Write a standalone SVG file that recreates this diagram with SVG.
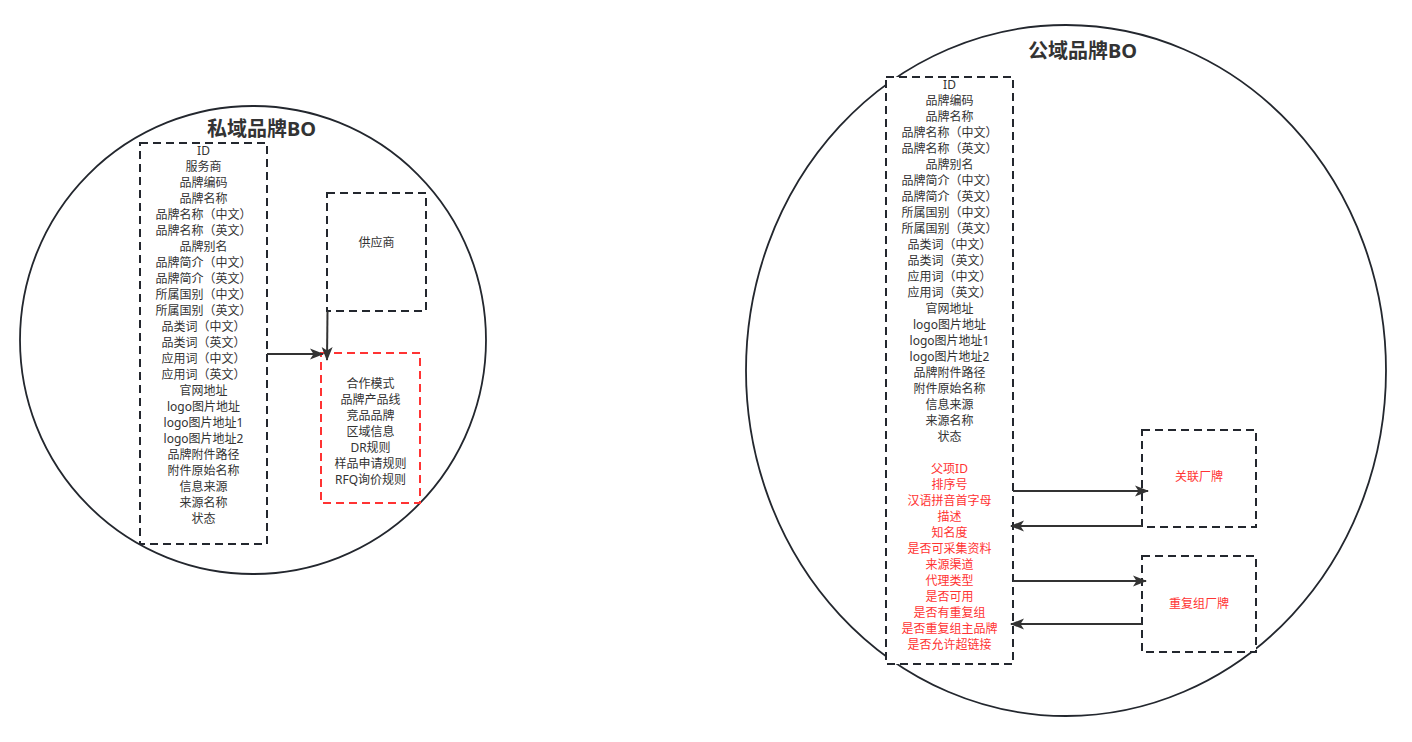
<svg xmlns="http://www.w3.org/2000/svg" width="1412" height="742" viewBox="0 0 1412 742">
<defs>
<style>
.circle{fill:none;stroke:#23272e;stroke-width:1.8}
.box{fill:#ffffff;stroke:#23272e;stroke-width:2;stroke-dasharray:8 5}
.rbox{fill:#ffffff;stroke:#ff3333;stroke-width:2;stroke-dasharray:8 5}
.t{font-family:"Noto Sans","Noto Sans CJK SC",sans-serif;font-size:12px;fill:#333333;text-anchor:middle;dominant-baseline:central}
.r{fill:#ff3333}
.title{font-family:"Noto Sans","Noto Sans CJK SC",sans-serif;font-size:20px;font-weight:bold;fill:#333333;text-anchor:middle;dominant-baseline:central}
.conn{fill:none;stroke:#333333;stroke-width:2}
</style>
<marker id="arr" viewBox="0 0 14 11" refX="13" refY="5.5" markerWidth="14" markerHeight="11" markerUnits="userSpaceOnUse" orient="auto" overflow="visible">
<path d="M0,0 L14,5.5 L0,11 L3.5,5.5 Z" fill="#333333"/>
</marker>
</defs>

<g id="private-brand-bo">
<ellipse class="circle" cx="253" cy="340" rx="233" ry="234"/>
<text class="title" x="261.5" y="128">私域品牌BO</text>
</g>

<g id="public-brand-bo">
<ellipse class="circle" cx="1066" cy="370.5" rx="320" ry="345.5"/>
<text class="title" x="1082.5" y="50">公域品牌BO</text>
</g>

<g id="private-fields">
<rect class="box" x="140" y="143" width="127" height="401"/>
<text class="t" x="203.5" y="150">ID</text>
<text class="t" x="203.5" y="166">服务商</text>
<text class="t" x="203.5" y="182">品牌编码</text>
<text class="t" x="203.5" y="198">品牌名称</text>
<text class="t" x="203.5" y="214">品牌名称（中文）</text>
<text class="t" x="203.5" y="230">品牌名称（英文）</text>
<text class="t" x="203.5" y="246">品牌别名</text>
<text class="t" x="203.5" y="262">品牌简介（中文）</text>
<text class="t" x="203.5" y="278">品牌简介（英文）</text>
<text class="t" x="203.5" y="294">所属国别（中文）</text>
<text class="t" x="203.5" y="310">所属国别（英文）</text>
<text class="t" x="203.5" y="326">品类词（中文）</text>
<text class="t" x="203.5" y="342">品类词（英文）</text>
<text class="t" x="203.5" y="358">应用词（中文）</text>
<text class="t" x="203.5" y="374">应用词（英文）</text>
<text class="t" x="203.5" y="390">官网地址</text>
<text class="t" x="203.5" y="406">logo图片地址</text>
<text class="t" x="203.5" y="422">logo图片地址1</text>
<text class="t" x="203.5" y="438">logo图片地址2</text>
<text class="t" x="203.5" y="454">品牌附件路径</text>
<text class="t" x="203.5" y="470">附件原始名称</text>
<text class="t" x="203.5" y="486">信息来源</text>
<text class="t" x="203.5" y="502">来源名称</text>
<text class="t" x="203.5" y="518">状态</text>
</g>

<g id="supplier">
<rect class="box" x="327" y="193" width="99" height="118"/>
<text class="t" x="376.5" y="242">供应商</text>
</g>

<g id="cooperation">
<rect class="rbox" x="321" y="353" width="99" height="150"/>
<text class="t" x="370.5" y="383">合作模式</text>
<text class="t" x="370.5" y="399">品牌产品线</text>
<text class="t" x="370.5" y="415">竞品品牌</text>
<text class="t" x="370.5" y="431">区域信息</text>
<text class="t" x="370.5" y="447">DR规则</text>
<text class="t" x="370.5" y="463">样品申请规则</text>
<text class="t" x="370.5" y="479">RFQ询价规则</text>
</g>

<g id="public-fields">
<rect class="box" x="886" y="77" width="127" height="587"/>
<text class="t" x="949.5" y="84">ID</text>
<text class="t" x="949.5" y="100">品牌编码</text>
<text class="t" x="949.5" y="116">品牌名称</text>
<text class="t" x="949.5" y="132">品牌名称（中文）</text>
<text class="t" x="949.5" y="148">品牌名称（英文）</text>
<text class="t" x="949.5" y="164">品牌别名</text>
<text class="t" x="949.5" y="180">品牌简介（中文）</text>
<text class="t" x="949.5" y="196">品牌简介（英文）</text>
<text class="t" x="949.5" y="212">所属国别（中文）</text>
<text class="t" x="949.5" y="228">所属国别（英文）</text>
<text class="t" x="949.5" y="244">品类词（中文）</text>
<text class="t" x="949.5" y="260">品类词（英文）</text>
<text class="t" x="949.5" y="276">应用词（中文）</text>
<text class="t" x="949.5" y="292">应用词（英文）</text>
<text class="t" x="949.5" y="308">官网地址</text>
<text class="t" x="949.5" y="324">logo图片地址</text>
<text class="t" x="949.5" y="340">logo图片地址1</text>
<text class="t" x="949.5" y="356">logo图片地址2</text>
<text class="t" x="949.5" y="372">品牌附件路径</text>
<text class="t" x="949.5" y="388">附件原始名称</text>
<text class="t" x="949.5" y="404">信息来源</text>
<text class="t" x="949.5" y="420">来源名称</text>
<text class="t" x="949.5" y="436">状态</text>
<text class="t r" x="949.5" y="468">父项ID</text>
<text class="t r" x="949.5" y="484">排序号</text>
<text class="t r" x="949.5" y="500">汉语拼音首字母</text>
<text class="t r" x="949.5" y="516">描述</text>
<text class="t r" x="949.5" y="532">知名度</text>
<text class="t r" x="949.5" y="548">是否可采集资料</text>
<text class="t r" x="949.5" y="564">来源渠道</text>
<text class="t r" x="949.5" y="580">代理类型</text>
<text class="t r" x="949.5" y="596">是否可用</text>
<text class="t r" x="949.5" y="612">是否有重复组</text>
<text class="t r" x="949.5" y="628">是否重复组主品牌</text>
<text class="t r" x="949.5" y="644">是否允许超链接</text>
</g>

<g id="related-brand">
<rect class="box" x="1142" y="430" width="114" height="97"/>
<text class="t r" x="1199" y="476">关联厂牌</text>
</g>

<g id="duplicate-group-brand">
<rect class="box" x="1142" y="556" width="114" height="96"/>
<text class="t r" x="1199" y="603">重复组厂牌</text>
</g>

<g id="connectors">
<path class="conn" d="M267,354 L323,354" marker-end="url(#arr)"/>
<path class="conn" d="M327.5,311 L327,360" marker-end="url(#arr)"/>
<path class="conn" d="M1013,491 L1148,491" marker-end="url(#arr)"/>
<path class="conn" d="M1142,526 L1011,526" marker-end="url(#arr)"/>
<path class="conn" d="M1013,581 L1146,581" marker-end="url(#arr)"/>
<path class="conn" d="M1142,624 L1011,624" marker-end="url(#arr)"/>
</g>
</svg>
